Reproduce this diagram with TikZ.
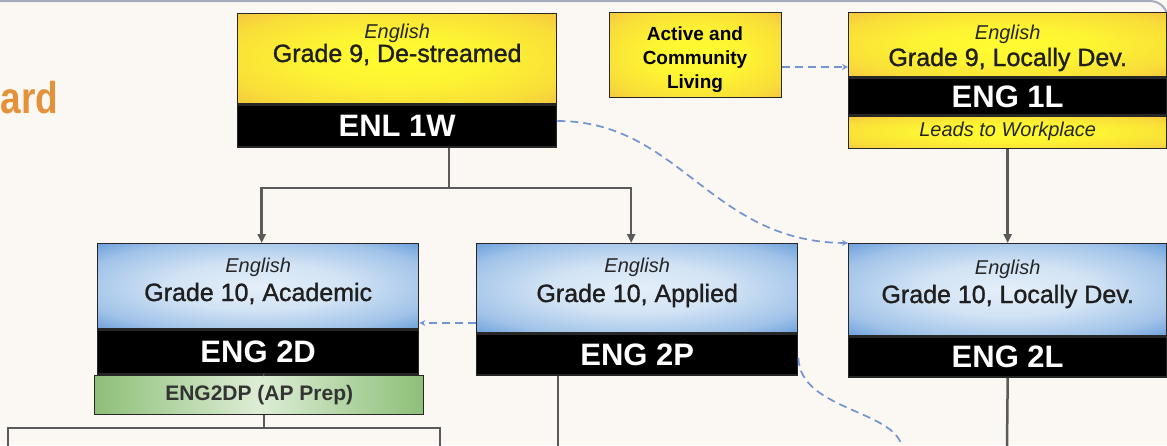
\documentclass[tikz,border=0pt]{standalone}
\usepackage{fontspec}
\setmainfont{Liberation Sans}
\newfontfamily\gradefont[FakeBold=1.2]{Liberation Sans}
\usetikzlibrary{shapes, arrows.meta, positioning}

\definecolor{paper}{HTML}{FBF8F3}
\definecolor{yelEdge}{HTML}{F4C640}
\definecolor{yelMid}{HTML}{FFFC30}
\definecolor{bluEdge}{HTML}{6A9FDB}
\definecolor{bluMid}{HTML}{E4EFF9}
\definecolor{grnEdge}{HTML}{8DBF78}
\definecolor{grnMid}{HTML}{DDEDD5}
\definecolor{linkGray}{HTML}{5A5A5A}
\definecolor{dashBlue}{HTML}{7394D2}
\definecolor{boardOrange}{HTML}{E3923A}
\definecolor{frameGray}{HTML}{A3ADBB}

\pgfdeclareradialshading{yelShade}{\pgfpoint{0bp}{0bp}}{color(0bp)=(yelMid); color(14bp)=(yelMid!85!yelEdge); color(28bp)=(yelMid!45!yelEdge); color(36bp)=(yelEdge); color(50bp)=(yelEdge)}
\pgfdeclareradialshading{bluShade}{\pgfpoint{0bp}{0bp}}{color(0bp)=(bluMid); color(14bp)=(bluMid!85!bluEdge); color(28bp)=(bluMid!45!bluEdge); color(36bp)=(bluEdge); color(50bp)=(bluEdge)}

\begin{document}
\begin{tikzpicture}[x=1pt, y=-1pt,
    box/.style={rectangle, draw=black!85, line width=1.4pt, inner sep=0pt},
    yelbox/.style={box, shading=yelShade},
    blubox/.style={box, shading=bluShade},
    grnbox/.style={box, left color=grnEdge, right color=grnEdge, middle color=grnMid},
    codebar/.style={box, fill=black, text=white, font=\fontsize{31}{33}\selectfont\bfseries},
    engtext/.style={anchor=base, font=\fontsize{20}{22}\selectfont\itshape, text=black!85},
    gradetext/.style={anchor=base, font=\fontsize{25}{27}\gradefont, text=black!88},
    link/.style={draw=linkGray, line width=2.5pt},
    linkarrow/.style={link, -{Triangle[length=9pt, width=8pt]}},
    dashlink/.style={draw=dashBlue, line width=1.7pt, dash pattern=on 8pt off 5pt, -{Stealth[length=6pt, width=6pt]}}
  ]
  \fill[paper] (0,0) rectangle (1167,445);
  \useasboundingbox (0,0) rectangle (1167,445);
  \draw[frameGray, line width=2pt, rounded corners=18] (-5,1) -- (1168,1) -- (1168,60);

  \node[anchor=base east, inner sep=0pt, font=\fontsize{37}{37}\selectfont\bfseries, text=boardOrange] (boardWord) at (58.5,113) {\scalebox{1}[1.2]{ard}};

  % grade 9, de-streamed
  \node[yelbox, minimum width=319, minimum height=90, anchor=north west] (enlTop) at (237,13) {};
  \node[codebar, minimum width=319, minimum height=42, anchor=north] (enlCode) at (enlTop.south) {ENL 1W};
  \node[engtext] (enlEng) at (enlTop.north |- 0,38) {English};
  \node[gradetext] (enlGrade) at (enlTop.north |- 0,62) {Grade 9, De-streamed};

  % active and community living
  \node[yelbox, minimum width=172, minimum height=85, anchor=north west] (aclBox) at (609,12) {};
  \node[align=center, font=\fontsize{19}{24}\selectfont\bfseries] (aclText) at (695,60) {Active and\\Community\\Living};

  % grade 9, locally developed
  \node[yelbox, minimum width=318, minimum height=64, anchor=north west] (onelTop) at (848,12) {};
  \node[codebar, minimum width=318, minimum height=37, anchor=north] (onelCode) at (onelTop.south) {ENG 1L};
  \node[yelbox, minimum width=318, minimum height=32, anchor=north] (onelLead) at (onelCode.south) {};
  \node[engtext] (onelEng) at (onelTop.north |- 0,39) {English};
  \node[gradetext] (onelGrade) at (onelTop.north |- 0,66) {Grade 9, Locally Dev.};
  \node[engtext] (onelLeadText) at (onelLead.north |- 0,136) {Leads to Workplace};

  % grade 10 boxes
  \node[blubox, minimum width=321, minimum height=85, anchor=north west] (tenDTop) at (97,243) {};
  \node[codebar, minimum width=321, minimum height=44, anchor=north] (tenDCode) at (tenDTop.south) {ENG 2D};
  \node[engtext] (tenDEng) at (tenDTop.north |- 0,272) {English};
  \node[gradetext] (tenDGrade) at (tenDTop.north |- 0,301) {Grade 10, Academic};
  \node[grnbox, minimum width=329, minimum height=39, anchor=north west, font=\fontsize{21}{23}\selectfont\bfseries, text=black!80] (apPrep) at (94,375) {ENG2DP (AP Prep)};

  \node[blubox, minimum width=321, minimum height=89, anchor=north west] (tenPTop) at (476,243) {};
  \node[codebar, minimum width=321, minimum height=41, anchor=north] (tenPCode) at (tenPTop.south) {ENG 2P};
  \node[engtext] (tenPEng) at (tenPTop.north |- 0,272) {English};
  \node[gradetext] (tenPGrade) at (tenPTop.north |- 0,302) {Grade 10, Applied};

  \node[blubox, minimum width=318, minimum height=92, anchor=north west] (tenLTop) at (848,243) {};
  \node[codebar, minimum width=318, minimum height=40, anchor=north] (tenLCode) at (tenLTop.south) {ENG 2L};
  \node[engtext] (tenLEng) at (tenLTop.north |- 0,274) {English};
  \node[gradetext] (tenLGrade) at (tenLTop.north |- 0,303) {Grade 10, Locally Dev.};

  % solid connectors
  \coordinate (split) at (449,188);
  \draw[link] (enlCode.south -| split) -- (split);
  \draw[linkarrow] (split) -| ([xshift=3.5pt]tenDTop.north);
  \draw[linkarrow] (split) -| ([xshift=-6pt]tenPTop.north);
  \draw[linkarrow] (onelLead.south) -- (tenLTop.north);
  \draw[link] ([xshift=5pt]tenDCode.south) -- ([xshift=5pt]apPrep.north);
  \coordinate (brTop) at (264,428);
  \coordinate (brLeft) at (8,447);
  \coordinate (brRight) at (440,447);
  \draw[link] (apPrep.south -| brTop) -- (brTop);
  \draw[link] (brLeft) |- (brTop) -| (brRight);
  \coordinate (tenPOut) at (558,447);
  \draw[link] (tenPCode.south -| tenPOut) -- (tenPOut);
  \coordinate (tenLOut) at (1007,447);
  \draw[link] (tenLCode.south) -- (tenLOut);

  % dashed connectors
  \draw[dashlink] (aclBox.east |- 0,67) -- (onelTop.west |- 0,67);
  \draw[dashlink] (enlCode.east |- 0,121) .. controls (680,121) and (710,242) .. (tenLTop.north west);
  \draw[dashlink] (tenPTop.west |- 0,323) -- (tenDTop.east |- 0,323);
  \coordinate (curveOut) at (902,447);
  \draw[dashlink, -] (tenPCode.east |- 0,358) .. controls (800,410) and (895,410) .. (curveOut);
\end{tikzpicture}
\end{document}
